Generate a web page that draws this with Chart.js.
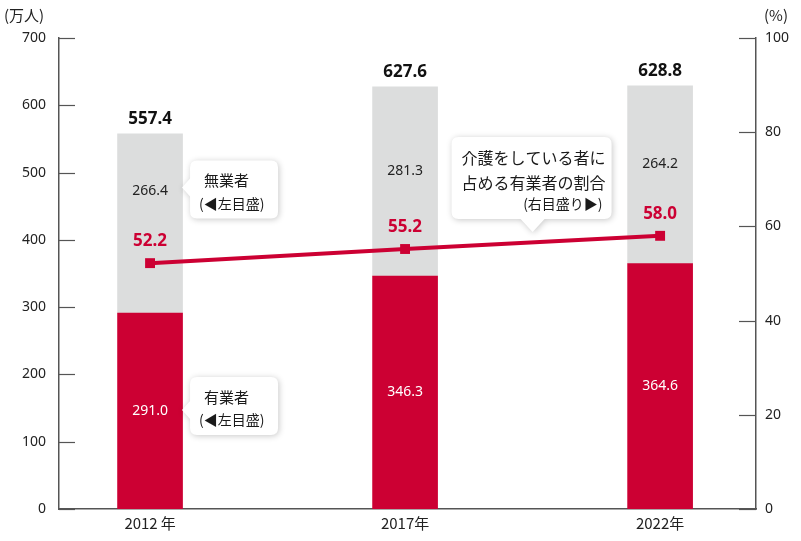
<!DOCTYPE html>
<html>
<head>
<meta charset="utf-8">
<script src="https://cdn.jsdelivr.net/npm/chart.js@4"></script>
<style>
  html, body { margin: 0; padding: 0; background: #fff; }
  #wrap { width: 801px; height: 541px; position: relative; }
</style>
</head>
<body>
<div id="wrap"><canvas id="grafico" width="801" height="541"></canvas></div>
<script>
// データ
const anos = ['2012\u2009年', '2017年', '2022年'];
const empregados = [291.0, 346.3, 364.6];   // 有業者
const desempregados = [266.4, 281.3, 264.2]; // 無業者
const totais = [557.4, 627.6, 628.8];
const proporcao = [52.2, 55.2, 58.0];        // 有業者の割合 (%)
const ticksEsq = [0, 100, 200, 300, 400, 500, 600, 700];
const ticksDir = [0, 20, 40, 60, 80, 100];

const VERMELHO = '#CC0033';
const CINZA = '#DCDDDD';
const EIXO = '#555';
const FONTE = '"Noto Sans", "Noto Sans CJK JP", sans-serif';
const FONTE_JP = '"Noto Sans CJK JP", sans-serif';

// marcas de escala para dentro
const marcasPlugin = {
  id: 'marcas',
  afterDraw(chart) {
    const ctx = chart.ctx;
    const a = chart.chartArea;
    ctx.save();
    ctx.strokeStyle = EIXO;
    ctx.lineWidth = 1.2;
    chart.scales.y.ticks.forEach(t => {
      const py = Math.round(chart.scales.y.getPixelForValue(t.value)) + 0.5;
      ctx.beginPath(); ctx.moveTo(a.left, py); ctx.lineTo(a.left + 16, py); ctx.stroke();
    });
    chart.scales.y2.ticks.forEach(t => {
      const py = Math.round(chart.scales.y2.getPixelForValue(t.value)) + 0.5;
      ctx.beginPath(); ctx.moveTo(a.right - 17, py); ctx.lineTo(a.right, py); ctx.stroke();
    });
    // unidades
    ctx.fillStyle = '#222';
    ctx.font = '15px ' + FONTE_JP;
    ctx.textBaseline = 'middle';
    ctx.textAlign = 'left';
    ctx.fillText('(万人)', 4, 15);
    ctx.fillText('(%)', 764, 15);
    ctx.restore();
  }
};

// rótulos de valores
const rotulosPlugin = {
  id: 'rotulos',
  afterDatasetsDraw(chart) {
    const ctx = chart.ctx;
    ctx.save();
    ctx.textAlign = 'center';
    ctx.textBaseline = 'middle';
    const m0 = chart.getDatasetMeta(0), m1 = chart.getDatasetMeta(1), m2 = chart.getDatasetMeta(2);
    m0.data.forEach((b, i) => {
      ctx.font = '14px ' + FONTE;
      ctx.fillStyle = '#fff';
      ctx.fillText(empregados[i].toFixed(1), b.x, (b.y + b.base) / 2);
    });
    m1.data.forEach((b, i) => {
      // fica acima do rótulo da linha quando houver colisão
      const yLinha = m2.data[i].y - 22;
      const yRot = Math.min((b.y + b.base) / 2 - 10, yLinha - 50);
      ctx.font = '14px ' + FONTE;
      ctx.fillStyle = '#222';
      ctx.fillText(desempregados[i].toFixed(1), b.x, yRot);
      ctx.font = 'bold 17px ' + FONTE;
      ctx.fillStyle = '#111';
      ctx.fillText(totais[i].toFixed(1), b.x, b.y - 15);
    });
    m2.data.forEach((p, i) => {
      ctx.font = 'bold 17px ' + FONTE;
      ctx.fillStyle = VERMELHO;
      ctx.fillText(proporcao[i].toFixed(1), p.x, p.y - 22);
    });
    ctx.restore();
  }
};

function balao(ctx, x, y, w, h, seta) {
  ctx.save();
  ctx.shadowColor = 'rgba(0,0,0,0.22)';
  ctx.shadowBlur = 6;
  ctx.shadowOffsetX = 1;
  ctx.shadowOffsetY = 1;
  ctx.fillStyle = '#fff';
  ctx.beginPath();
  const r = 7;
  ctx.moveTo(x + r, y);
  ctx.lineTo(x + w - r, y);
  ctx.quadraticCurveTo(x + w, y, x + w, y + r);
  ctx.lineTo(x + w, y + h - r);
  ctx.quadraticCurveTo(x + w, y + h, x + w - r, y + h);
  if (seta.lado === 'baixo') {
    ctx.lineTo(seta.pos + 12, y + h);
    ctx.lineTo(seta.pos, y + h + 13);
    ctx.lineTo(seta.pos - 12, y + h);
  }
  ctx.lineTo(x + r, y + h);
  ctx.quadraticCurveTo(x, y + h, x, y + h - r);
  if (seta.lado === 'esq') {
    ctx.lineTo(x, seta.pos + 9);
    ctx.lineTo(x - 8, seta.pos);
    ctx.lineTo(x, seta.pos - 9);
  }
  ctx.lineTo(x, y + r);
  ctx.quadraticCurveTo(x, y, x + r, y);
  ctx.closePath();
  ctx.fill();
  ctx.restore();
}

// balões explicativos
const baloesPlugin = {
  id: 'baloes',
  afterDraw(chart) {
    const ctx = chart.ctx;
    const xs = chart.scales.x, ys = chart.scales.y;
    const bx = xs.getPixelForValue(0) + 40;
    ctx.save();
    // 無業者
    let by = ys.getPixelForValue(518);
    balao(ctx, bx, by, 88, 58, { lado: 'esq', pos: by + 27 });
    // 有業者
    let by2 = ys.getPixelForValue(196);
    balao(ctx, bx, by2, 88, 58, { lado: 'esq', pos: by2 + 33 });
    // 割合
    const cx = (xs.getPixelForValue(1) + xs.getPixelForValue(2)) / 2;
    let by3 = ys.getPixelForValue(553);
    balao(ctx, cx - 81, by3, 160, 82, { lado: 'baixo', pos: cx });

    ctx.fillStyle = '#1a1a1a';
    ctx.textBaseline = 'middle';
    ctx.textAlign = 'left';
    ctx.font = '15px ' + FONTE_JP;
    ctx.fillText('無業者', bx + 14, by + 20);
    ctx.fillText('有業者', bx + 14, by2 + 20);
    ctx.font = '14px ' + FONTE_JP;
    ctx.fillText('(◀左目盛)', bx + 9, by + 43);
    ctx.fillText('(◀左目盛)', bx + 9, by2 + 43);
    ctx.font = '16px ' + FONTE_JP;
    ctx.textAlign = 'center';
    ctx.fillText('介護をしている者に', cx + 1, by3 + 21);
    ctx.fillText('占める有業者の割合', cx + 1, by3 + 46);
    ctx.font = '14px ' + FONTE_JP;
    ctx.textAlign = 'right';
    ctx.fillText('(右目盛り▶)', cx + 70, by3 + 67);
    ctx.restore();
  }
};

const ctx = document.getElementById('grafico').getContext('2d');
const grafico = new Chart(ctx, {
  type: 'bar',
  data: {
    datasets: [
      {
        label: '有業者',
        data: empregados.map((v, i) => ({ x: i, y: v })),
        backgroundColor: VERMELHO,
        barThickness: 65,
        yAxisID: 'y',
        order: 2
      },
      {
        label: '無業者',
        data: desempregados.map((v, i) => ({ x: i, y: v })),
        backgroundColor: CINZA,
        barThickness: 65,
        yAxisID: 'y',
        order: 2
      },
      {
        type: 'line',
        label: '割合',
        data: proporcao.map((v, i) => ({ x: i, y: v })),
        borderColor: VERMELHO,
        backgroundColor: VERMELHO,
        borderWidth: 4,
        pointStyle: 'rect',
        pointRadius: 7,
        pointBorderWidth: 0,
        yAxisID: 'y2',
        order: 1
      }
    ]
  },
  options: {
    responsive: false,
    animation: false,
    layout: { padding: { top: 38, left: 0, right: 0, bottom: 0 } },
    plugins: { legend: { display: false }, tooltip: { enabled: false } },
    scales: {
      x: {
        type: 'linear',
        offset: false,
        min: -0.357,
        max: 2.376,
        stacked: true,
        grid: { display: false, drawTicks: false },
        border: { color: EIXO, width: 1.5 },
        afterBuildTicks: s => { s.ticks = anos.map((a, i) => ({ value: i })); },
        afterFit: s => { s.height = 32; },
        ticks: {
          padding: 5,
          color: '#222',
          font: { family: FONTE_JP, size: 15 },
          callback: v => anos[v]
        }
      },
      y: {
        position: 'left',
        stacked: true,
        min: 0,
        max: 700,
        afterBuildTicks: s => { s.ticks = ticksEsq.map(v => ({ value: v })); },
        afterFit: s => { s.width = 59; },
        grid: { display: false, drawTicks: false },
        border: { color: EIXO, width: 1.5 },
        ticks: { padding: 13, color: '#222', font: { family: FONTE, size: 14 } }
      },
      y2: {
        position: 'right',
        min: 0,
        max: 100,
        afterBuildTicks: s => { s.ticks = ticksDir.map(v => ({ value: v })); },
        afterFit: s => { s.width = 45; },
        grid: { display: false, drawTicks: false },
        border: { color: EIXO, width: 1.5 },
        ticks: { padding: 9, color: '#222', font: { family: FONTE, size: 14 } }
      }
    }
  },
  plugins: [marcasPlugin, rotulosPlugin, baloesPlugin]
});
</script>
</body>
</html>
